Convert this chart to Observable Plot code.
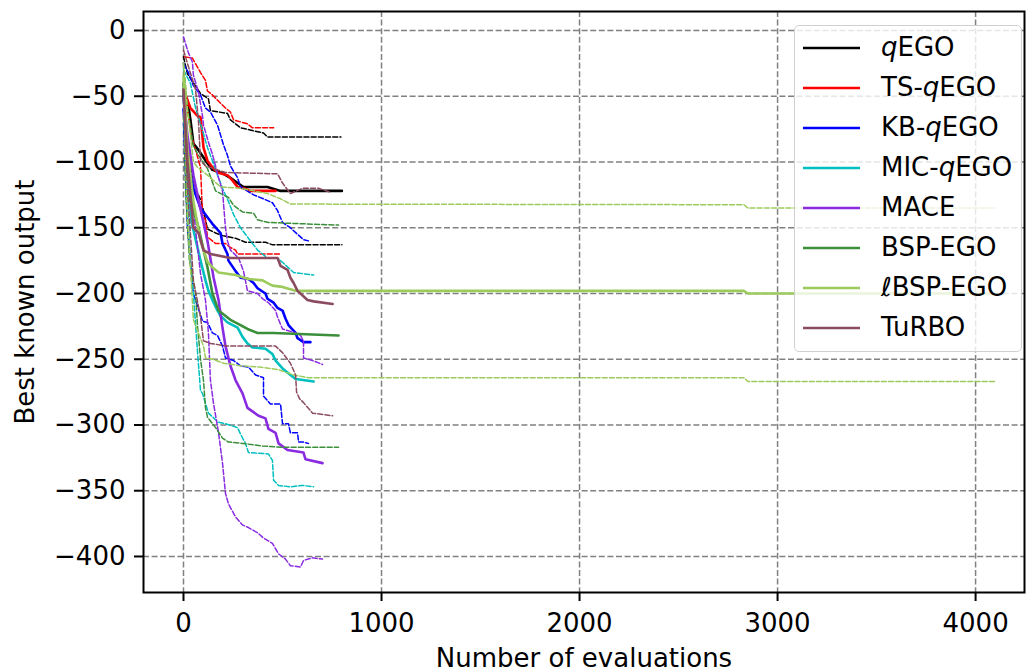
<!DOCTYPE html>
<html><head><meta charset="utf-8">
<script src="https://cdn.jsdelivr.net/npm/d3@7"></script>
<script src="https://cdn.jsdelivr.net/npm/@observablehq/plot@0.6"></script>
<style>
html,body{margin:0;padding:0;background:#fff;}
#wrap{position:relative;width:1026px;height:672px;font-family:"DejaVu Sans";}
#legend{position:absolute;left:794px;top:25px;width:228px;height:327px;box-sizing:border-box;border:1.5px solid #d0d0d0;border-radius:5px;background:rgba(255,255,255,0.8);}
.row{position:absolute;left:0;height:40px;width:226px;font-size:26px;color:#000;}
.row svg{position:absolute;left:8px;top:18px;}
.row span{position:absolute;left:86px;top:3px;white-space:nowrap;line-height:32px;}
</style>
</head><body>
<div id="wrap"><div id="chart"></div><div id="legend"></div></div>
<script>
const methods = ["qEGO","TS-qEGO","KB-qEGO","MIC-qEGO","MACE","BSP-EGO","ℓBSP-EGO","TuRBO"];
const legendLabels = ["<i>q</i>EGO","TS-<i>q</i>EGO","KB-<i>q</i>EGO","MIC-<i>q</i>EGO","MACE","BSP-EGO","ℓBSP-EGO","TuRBO"];
const colors = ["#000000","#ff0000","#0000ff","#00bfbf","#8a2be2","#3b8f3b","#9dcb5b","#8b4b5e"];
const xTicks = [0,1000,2000,3000,4000];
const yTicks = [0,-50,-100,-150,-200,-250,-300,-350,-400];

// [evaluations, best known output]
const qEGO_median = [[0,-50],[20,-53],[35,-68],[50,-86],[76,-91],[121,-101],[146,-106],[202,-109],[237,-112],[273,-116],[303,-119],[424,-119],[490,-122],[800,-122]];
const qEGO_upper  = [[0,-20],[20,-33],[86,-48],[126,-52],[136,-61],[222,-63],[237,-68],[288,-74],[404,-78],[424,-81],[795,-81]];
const qEGO_lower  = [[0,-55],[30,-100],[60,-120],[90,-130],[101,-137],[121,-151],[162,-154],[197,-156],[263,-158],[313,-161],[414,-161],[449,-163],[800,-163]];

const TS_median = [[0,-45],[35,-59],[71,-65],[86,-66],[96,-81],[101,-89],[121,-99],[146,-104],[172,-108],[222,-110],[247,-114],[273,-119],[303,-120],[338,-122],[465,-122]];
const TS_upper  = [[5,-20],[45,-21],[86,-32],[111,-38],[121,-46],[146,-49],[172,-53],[212,-59],[237,-62],[253,-68],[323,-71],[348,-74],[455,-74]];
const TS_lower  = [[0,-40],[40,-80],[86,-104],[96,-140],[111,-144],[121,-157],[162,-162],[212,-162],[237,-165],[263,-167],[273,-170],[490,-170]];

const KB_median = [[0,-60],[20,-100],[50,-120],[86,-135],[121,-142],[146,-147],[187,-154],[197,-162],[222,-170],[227,-175],[263,-183],[288,-188],[328,-189],[354,-192],[374,-196],[414,-200],[424,-204],[455,-207],[475,-211],[500,-213],[515,-219],[530,-224],[566,-230],[576,-234],[606,-237],[641,-237]];
const KB_upper  = [[0,-25],[25,-32],[50,-42],[86,-49],[111,-59],[136,-62],[172,-72],[202,-87],[222,-95],[237,-103],[273,-112],[288,-119],[354,-125],[404,-128],[449,-131],[475,-137],[500,-146],[540,-150],[576,-155],[606,-159],[631,-160]];
const KB_lower  = [[0,-70],[20,-150],[50,-200],[96,-221],[121,-222],[146,-230],[172,-232],[197,-240],[212,-249],[253,-251],[288,-255],[328,-256],[364,-262],[404,-264],[404,-278],[439,-284],[490,-284],[500,-299],[530,-299],[540,-306],[576,-306],[581,-313],[606,-313],[631,-314]];

const MIC_median = [[0,-45],[15,-100],[40,-145],[86,-175],[111,-190],[126,-198],[146,-205],[172,-213],[187,-217],[222,-222],[273,-226],[298,-233],[323,-238],[348,-241],[414,-242],[449,-246],[465,-251],[500,-257],[540,-262],[566,-265],[657,-267]];
const MIC_upper  = [[0,-30],[35,-40],[61,-59],[96,-76],[121,-89],[146,-99],[172,-110],[197,-120],[227,-130],[253,-140],[288,-150],[323,-157],[374,-167],[424,-173],[475,-173],[505,-177],[556,-184],[606,-185],[657,-186]];
const MIC_lower  = [[0,-40],[10,-100],[35,-175],[50,-200],[71,-245],[86,-274],[96,-276],[126,-291],[177,-298],[212,-299],[273,-302],[288,-307],[313,-314],[328,-321],[429,-322],[449,-327],[455,-342],[480,-346],[540,-347],[601,-346],[657,-347]];

const MACE_median = [[0,-50],[20,-80],[50,-110],[76,-129],[121,-160],[152,-188],[177,-205],[197,-226],[212,-240],[237,-255],[263,-266],[298,-276],[323,-287],[379,-293],[414,-295],[429,-303],[465,-306],[480,-314],[525,-319],[606,-321],[616,-326],[702,-329]];
const MACE_upper  = [[0,-5],[25,-17],[45,-24],[50,-34],[76,-47],[96,-65],[101,-72],[126,-85],[146,-94],[177,-112],[197,-122],[212,-150],[222,-160],[237,-167],[278,-173],[303,-183],[323,-198],[374,-200],[399,-204],[429,-207],[465,-213],[475,-218],[500,-227],[566,-230],[591,-232],[606,-236],[606,-249],[652,-251],[702,-254]];
const MACE_lower  = [[0,-40],[30,-100],[60,-150],[86,-185],[111,-205],[126,-230],[136,-266],[152,-284],[177,-306],[197,-329],[212,-352],[227,-360],[263,-370],[298,-376],[328,-378],[374,-382],[404,-386],[449,-390],[480,-398],[515,-402],[540,-407],[591,-408],[606,-403],[652,-401],[702,-402]];

const BSP_median = [[0,-40],[15,-95],[35,-129],[76,-150],[121,-180],[146,-200],[177,-213],[237,-220],[288,-224],[323,-227],[374,-230],[455,-230],[783,-232]];
const BSP_upper  = [[0,-25],[20,-60],[50,-88],[76,-95],[121,-105],[162,-122],[227,-127],[253,-133],[298,-138],[354,-139],[374,-144],[429,-146],[783,-148]];
const BSP_lower  = [[0,-45],[10,-120],[30,-175],[61,-200],[71,-225],[86,-250],[101,-266],[111,-287],[121,-294],[162,-302],[197,-310],[227,-313],[298,-314],[399,-316],[500,-317],[783,-317]];

const LBSP_median = [[0,-35],[20,-90],[50,-130],[86,-160],[121,-176],[146,-180],[177,-184],[263,-186],[328,-189],[399,-190],[449,-194],[500,-195],[566,-198],[2830,-198],[2850,-200],[4100,-200]];
const LBSP_upper  = [[0,-25],[20,-60],[50,-100],[71,-104],[121,-110],[187,-119],[288,-120],[424,-124],[490,-128],[540,-132],[2830,-132.5],[2850,-135],[4100,-135]];
const LBSP_lower  = [[0,-45],[20,-140],[50,-220],[101,-240],[111,-249],[146,-250],[202,-253],[288,-255],[389,-256],[480,-258],[556,-262],[631,-264],[2830,-264],[2850,-267],[4100,-267]];

const TuRBO_median = [[0,-45],[20,-100],[50,-150],[76,-154],[101,-167],[136,-170],[237,-173],[475,-173],[490,-179],[525,-182],[540,-188],[556,-192],[576,-198],[626,-205],[657,-206],[753,-208]];
const TuRBO_upper  = [[0,-15],[30,-30],[61,-45],[76,-70],[86,-99],[111,-103],[212,-108],[475,-109],[500,-116],[540,-124],[601,-120],[682,-120],[742,-123]];
const TuRBO_lower  = [[0,-50],[20,-120],[50,-190],[86,-218],[101,-236],[136,-238],[222,-240],[465,-240],[500,-245],[540,-253],[566,-262],[571,-275],[586,-280],[606,-283],[652,-291],[753,-293]];

const seriesByMethod = [
  [qEGO_median, qEGO_upper, qEGO_lower],
  [TS_median, TS_upper, TS_lower],
  [KB_median, KB_upper, KB_lower],
  [MIC_median, MIC_upper, MIC_lower],
  [MACE_median, MACE_upper, MACE_lower],
  [BSP_median, BSP_upper, BSP_lower],
  [LBSP_median, LBSP_upper, LBSP_lower],
  [TuRBO_median, TuRBO_upper, TuRBO_lower]
];

const lineMarks = [];
seriesByMethod.forEach((s, i) => {
  const [med, up, lo] = s;
  for (const q of [up, lo]) {
    lineMarks.push(Plot.line(q, {x: d => d[0], y: d => d[1], stroke: colors[i], strokeWidth: 1.5, strokeDasharray: "5,2.2"}));
  }
  lineMarks.push(Plot.line(med, {x: d => d[0], y: d => d[1], stroke: colors[i], strokeWidth: 2.6}));
});

const fmt = d3.format("d");
const chart = Plot.plot({
  width: 1026, height: 672,
  marginLeft: 143, marginRight: 2, marginTop: 11, marginBottom: 80,
  style: {fontFamily: "DejaVu Sans", fontSize: "26px", background: "white", overflow: "visible"},
  x: {domain: [-202, 4247]},
  y: {domain: [-427.4, 14.45]},
  marks: [
    Plot.gridX(xTicks, {stroke: "#808080", strokeOpacity: 1, strokeWidth: 1.5, strokeDasharray: "6,2.6"}),
    Plot.gridY(yTicks, {stroke: "#808080", strokeOpacity: 1, strokeWidth: 1.5, strokeDasharray: "6,2.6"}),
    ...lineMarks,
    Plot.axisX({ticks: xTicks, tickSize: 9, tickPadding: 12, fontSize: 26, strokeWidth: 2, tickFormat: fmt,
      label: "Number of evaluations", labelAnchor: "center", labelArrow: "none", labelOffset: 74}),
    Plot.axisY({ticks: yTicks, tickSize: 9, tickPadding: 9, fontSize: 26, strokeWidth: 2, tickFormat: fmt,
      label: "Best known output", labelAnchor: "center", labelArrow: "none", labelOffset: 128}),
    Plot.frame({stroke: "#000", strokeWidth: 2})
  ]
});
document.getElementById("chart").appendChild(chart);

const leg = document.getElementById("legend");
methods.forEach((m, i) => {
  const row = document.createElement("div");
  row.className = "row";
  row.style.top = (46.7 + 40 * i - 25 - 20) + "px";
  row.innerHTML = `<svg width="58" height="4"><line x1="0" y1="2" x2="57" y2="2" stroke="${colors[i]}" stroke-width="2.6"/></svg><span>${legendLabels[i]}</span>`;
  leg.appendChild(row);
});
</script>
</body></html>
